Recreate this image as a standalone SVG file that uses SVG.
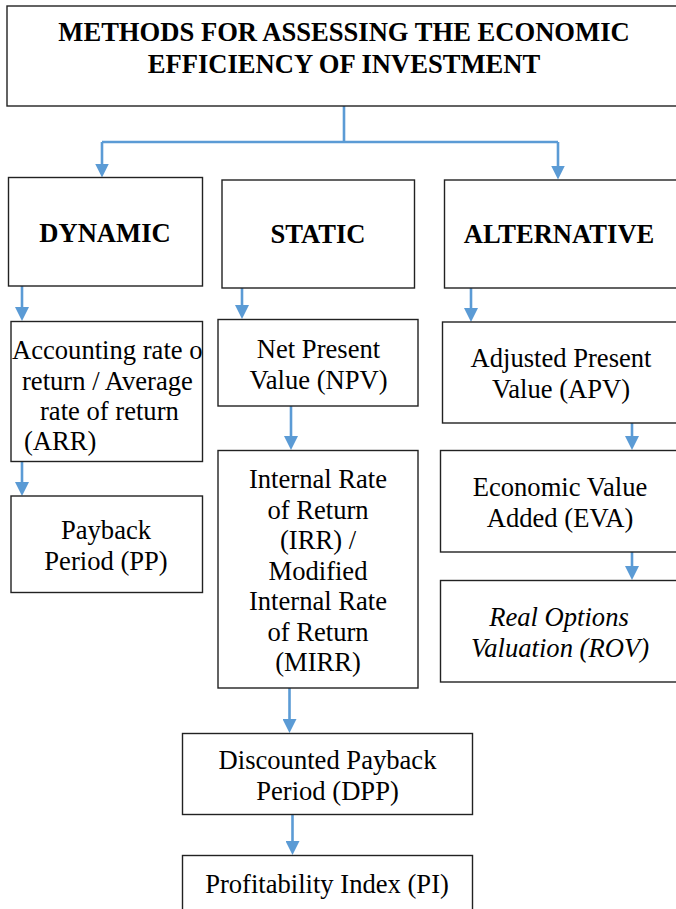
<svg xmlns="http://www.w3.org/2000/svg" width="676" height="909" viewBox="0 0 676 909">
<style>
.box{fill:#fff;stroke:#222;stroke-width:1.4}
.t{font-family:"Liberation Serif","Times New Roman",serif;font-size:26.6px;fill:#000;text-anchor:middle}
.b{font-weight:bold}
.i{font-style:italic}
.s{text-anchor:start}
.c{fill:none;stroke:#5B9BD5;stroke-width:2.6;stroke-linecap:butt}
.a{marker-end:url(#arr)}
</style>
<defs>
<marker id="arr" viewBox="0 0 14 14" refX="10" refY="7" markerWidth="14" markerHeight="14" markerUnits="userSpaceOnUse" orient="auto">
<path d="M0,0 L14,7 L0,14 z" fill="#5B9BD5"/>
</marker>
<clipPath id="arrclip"><rect x="11" y="321.5" width="191.5" height="140"/></clipPath>
</defs>
<rect width="676" height="909" fill="#fff"/>

<g id="connectors">
<path class="c" d="M344,106 V142 M102,142 H558"/>
<path class="c a" d="M102,142 V173.5"/>
<path class="c a" d="M558,142 V175.5"/>
<path class="c a" d="M22,286 V317"/>
<path class="c a" d="M242,288 V315"/>
<path class="c a" d="M471,288 V318"/>
<path class="c a" d="M22,461.5 V492"/>
<path class="c a" d="M291,406 V446"/>
<path class="c a" d="M632,423 V446"/>
<path class="c a" d="M632,552 V576"/>
<path class="c a" d="M289.5,688 V729"/>
<path class="c a" d="M292.5,814.5 V851"/>
</g>

<g id="title">
<rect class="box" x="7" y="6" width="690" height="100"/>
<text class="t b" x="344" y="40.5">METHODS FOR ASSESSING THE ECONOMIC</text>
<text class="t b" x="344" y="73">EFFICIENCY OF INVESTMENT</text>
</g>

<g id="dynamic">
<rect class="box" x="8.5" y="177.5" width="194" height="108.5"/>
<text class="t b" x="105" y="242">DYNAMIC</text>
</g>
<g id="static">
<rect class="box" x="222" y="180" width="192.5" height="108"/>
<text class="t b" x="318" y="243">STATIC</text>
</g>
<g id="alternative">
<rect class="box" x="444.5" y="180" width="250" height="108"/>
<text class="t b" x="559" y="243">ALTERNATIVE</text>
</g>

<g id="arr-node">
<rect class="box" x="11" y="321.5" width="191.5" height="140"/>
<g clip-path="url(#arrclip)">
<text class="t s" x="12" y="359">Accounting rate of</text>
<text class="t s" x="22" y="389.5">return / Average</text>
<text class="t s" x="40" y="420">rate of return</text>
<text class="t s" x="24" y="450">(ARR)</text>
</g>
</g>

<g id="pp">
<rect class="box" x="11" y="496" width="191.5" height="96.5"/>
<text class="t" x="106" y="538.5">Payback</text>
<text class="t" x="106" y="570">Period (PP)</text>
</g>

<g id="npv">
<rect class="box" x="218" y="319.5" width="200" height="86.5"/>
<text class="t" x="318.5" y="357.5">Net Present</text>
<text class="t" x="318.5" y="389">Value (NPV)</text>
</g>

<g id="irr">
<rect class="box" x="218" y="450.5" width="200" height="237.5"/>
<text class="t" x="318" y="488">Internal Rate</text>
<text class="t" x="318" y="518.5">of Return</text>
<text class="t" x="318" y="549">(IRR) /</text>
<text class="t" x="318" y="579.5">Modified</text>
<text class="t" x="318" y="610">Internal Rate</text>
<text class="t" x="318" y="640.5">of Return</text>
<text class="t" x="318" y="671">(MIRR)</text>
</g>

<g id="dpp">
<rect class="box" x="182.5" y="733.5" width="290" height="81"/>
<text class="t" x="327.5" y="769">Discounted Payback</text>
<text class="t" x="327.5" y="800">Period (DPP)</text>
</g>

<g id="pi">
<rect class="box" x="182.5" y="855.5" width="290" height="70"/>
<text class="t" x="327" y="893">Profitability Index (PI)</text>
</g>

<g id="apv">
<rect class="box" x="442.5" y="322" width="250" height="101"/>
<text class="t" x="561" y="367">Adjusted Present</text>
<text class="t" x="561" y="397.5">Value (APV)</text>
</g>

<g id="eva">
<rect class="box" x="440.5" y="450.5" width="250" height="101.5"/>
<text class="t" x="560" y="496">Economic Value</text>
<text class="t" x="560" y="527">Added (EVA)</text>
</g>

<g id="rov">
<rect class="box" x="440.5" y="580.5" width="250" height="101.5"/>
<text class="t i" x="559" y="626">Real Options</text>
<text class="t i" x="560" y="657">Valuation (ROV)</text>
</g>
</svg>
